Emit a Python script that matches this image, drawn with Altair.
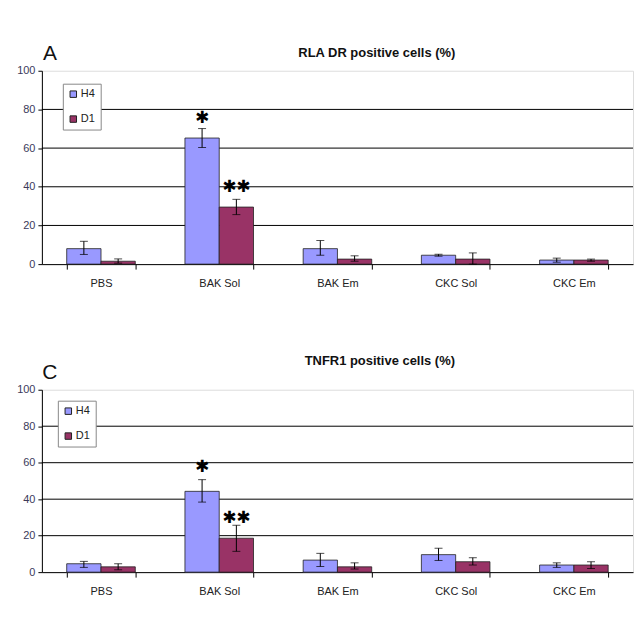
import altair as alt
import pandas as pd

cats = ["PBS", "BAK Sol", "BAK Em", "CKC Sol", "CKC Em"]
series = ["H4", "D1"]

rla_h4 = [8.0, 65.2, 8.0, 4.6, 2.1]
rla_h4_lo = [5.0, 60.3, 4.6, 4.1, 1.0]
rla_h4_hi = [11.8, 70.1, 12.2, 5.1, 3.1]
rla_d1 = [1.5, 29.5, 2.6, 2.6, 2.1]
rla_d1_lo = [0.5, 25.6, 1.5, 0.0, 1.5]
rla_d1_hi = [2.7, 33.5, 4.3, 5.8, 2.6]

tn_h4 = [4.6, 44.3, 6.6, 9.6, 3.9]
tn_h4_lo = [2.6, 38.4, 3.1, 6.4, 2.6]
tn_h4_hi = [5.9, 50.7, 10.3, 13.1, 5.1]
tn_d1 = [2.9, 18.6, 2.9, 5.7, 3.9]
tn_d1_lo = [1.3, 11.4, 1.7, 3.9, 2.0]
tn_d1_hi = [4.6, 25.7, 5.1, 7.9, 5.7]

rla_stars = [("BAK Sol", "H4", 75.8, "✱"), ("BAK Sol", "D1", 39.7, "✱✱")]
tn_stars = [("BAK Sol", "H4", 57.7, "✱"), ("BAK Sol", "D1", 29.8, "✱✱")]

grid_vals = [20, 40, 60, 80]
y_ticks = [0, 20, 40, 60, 80, 100]
colors = ["#9999ff", "#993366"]
FONT = "Liberation Sans"
W = 593


def make_df(h4, h4lo, h4hi, d1, d1lo, d1hi):
    rows = []
    for i, c in enumerate(cats):
        rows.append({"cat": c, "series": "H4", "value": h4[i], "lo": h4lo[i], "hi": h4hi[i]})
        rows.append({"cat": c, "series": "D1", "value": d1[i], "lo": d1lo[i], "hi": d1hi[i]})
    return pd.DataFrame(rows)


def panel(df, stars, title, letter, title_dx, title_dy, legx, legy, height):
    xaxis = alt.Axis(title=None, labelAngle=0, tickBand="extent", tickSize=5,
                     labelPadding=8, labelFontSize=11, labelFont=FONT,
                     labelColor="#222", domainColor="#000", tickColor="#000")
    xenc = alt.X("cat:N", sort=cats,
                 scale=alt.Scale(paddingInner=0.42, paddingOuter=0.21), axis=xaxis)
    yscale = alt.Scale(domain=[0, 100], nice=False)
    yaxis = alt.Axis(title=None, values=y_ticks, grid=False, labelOverlap=False,
                     tickSize=4, labelPadding=3, labelFontSize=11, labelFont=FONT,
                     labelColor="#3a3a5a", domainColor="#000", tickColor="#000",
                     minExtent=33, maxExtent=33)
    xoff = alt.XOffset("series:N", sort=series)

    grid = alt.Chart(pd.DataFrame({"g": grid_vals})).mark_rule(color="#000", strokeWidth=1).encode(
        y=alt.Y("g:Q", scale=yscale, axis=yaxis))

    bars = alt.Chart(df).mark_bar(stroke="#222", strokeWidth=0.8).encode(
        x=xenc, xOffset=xoff, y=alt.Y("value:Q", scale=yscale, axis=yaxis),
        color=alt.Color("series:N", sort=series,
                        scale=alt.Scale(domain=series, range=colors),
                        legend=alt.Legend(title=None, orient="none", legendX=legx, legendY=legy,
                                          fillColor="white", strokeColor="#888", padding=5,
                                          rowPadding=13, symbolType="square", symbolSize=42,
                                          symbolStrokeColor="#222", symbolStrokeWidth=1,
                                          labelFontSize=11, labelFont=FONT, labelColor="#222",
                                          labelOffset=2)))

    stem = alt.Chart(df).mark_rule(color="#000", strokeWidth=1).encode(
        x=alt.X("cat:N", sort=cats, axis=xaxis), xOffset=xoff,
        y=alt.Y("lo:Q", scale=yscale, axis=yaxis), y2="hi:Q")
    cap_lo = alt.Chart(df).mark_tick(color="#000", size=8, thickness=1).encode(
        x=alt.X("cat:N", sort=cats, axis=xaxis), xOffset=xoff,
        y=alt.Y("lo:Q", scale=yscale, axis=yaxis))
    cap_hi = alt.Chart(df).mark_tick(color="#000", size=8, thickness=1).encode(
        x=alt.X("cat:N", sort=cats, axis=xaxis), xOffset=xoff,
        y=alt.Y("hi:Q", scale=yscale, axis=yaxis))

    sdf = pd.DataFrame(stars, columns=["cat", "series", "y", "txt"])
    star = alt.Chart(sdf).mark_text(font="DejaVu Sans", fontSize=17, color="#000",
                                    baseline="middle").encode(
        x=alt.X("cat:N", sort=cats, axis=xaxis), xOffset=xoff,
        y=alt.Y("y:Q", scale=yscale, axis=yaxis), text="txt:N")

    ttl = alt.Chart(pd.DataFrame({"t": [title]})).mark_text(
        font=FONT, fontSize=13, fontWeight="bold", color="#111", baseline="middle").encode(
        x=alt.value(title_dx), y=alt.value(title_dy), text="t:N")
    let = alt.Chart(pd.DataFrame({"t": [letter]})).mark_text(
        font=FONT, fontSize=21, color="#111", baseline="middle").encode(
        x=alt.value(8), y=alt.value(-17), text="t:N")

    return alt.layer(grid, bars, stem, cap_lo, cap_hi, star, ttl, let).properties(
        width=W, height=height)


top = panel(make_df(rla_h4, rla_h4_lo, rla_h4_hi, rla_d1, rla_d1_lo, rla_d1_hi), rla_stars,
            "RLA DR positive cells (%)", "A", 336, -18, 21, 13, 194)
bottom = panel(make_df(tn_h4, tn_h4_lo, tn_h4_hi, tn_d1, tn_d1_lo, tn_d1_hi), tn_stars,
               "TNFR1 positive cells (%)", "C", 339, -29, 16, 11, 183)

chart = alt.vconcat(top, bottom, spacing=65).resolve_scale(color="independent").resolve_legend(
    color="independent").properties(
    padding={"left": 0, "top": 33, "right": 0, "bottom": 0}
).configure_view(stroke="#a0a0a0", strokeWidth=1).configure_axisY(
    labelOverlap=False).configure(background="white")

chart.save("out.html", embed_options={"renderer": "svg", "actions": False})
